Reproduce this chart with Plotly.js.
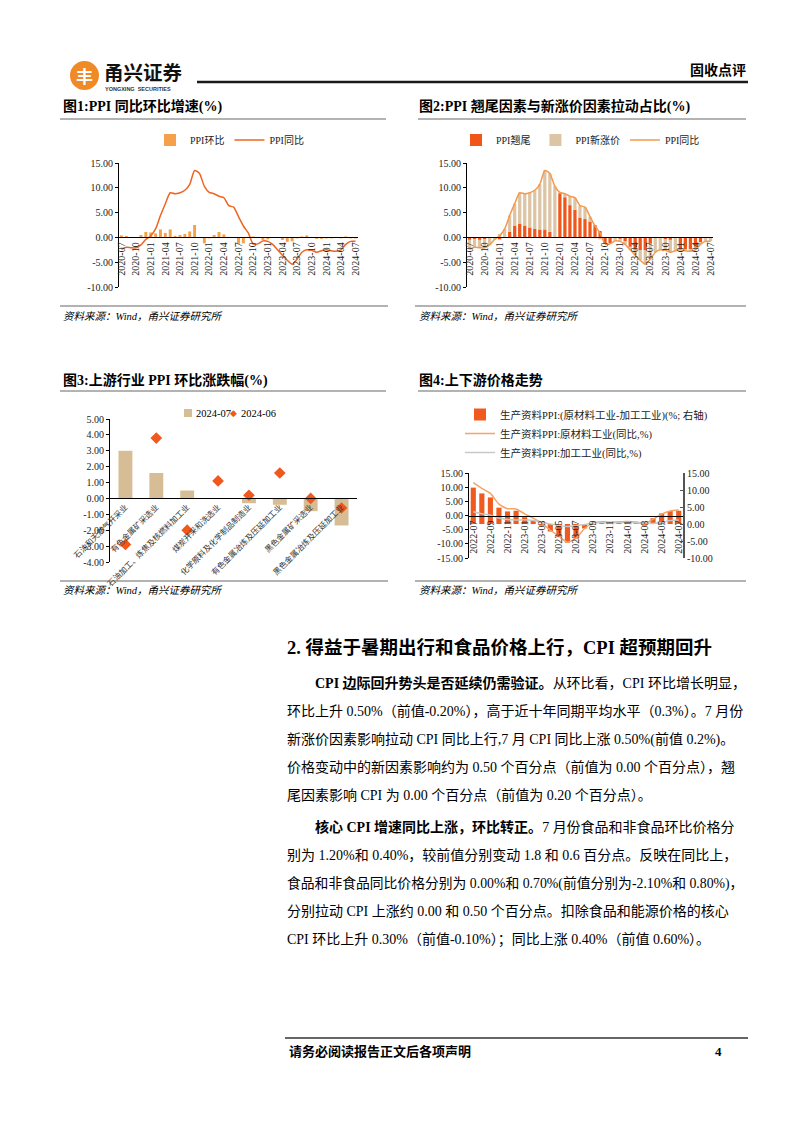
<!DOCTYPE html>
<html><head><meta charset="utf-8">
<script src="https://cdn.plot.ly/plotly-3.0.1.min.js"></script>
<style>html,body{margin:0;padding:0;background:#fff;}#page{width:802px;height:1133px;}</style>
</head><body><div id="page"></div>
<script>
// ---------------- DATA ----------------
const months1 = ['2020-07','2020-08','2020-09','2020-10','2020-11','2020-12',
 '2021-01','2021-02','2021-03','2021-04','2021-05','2021-06','2021-07','2021-08','2021-09','2021-10','2021-11','2021-12',
 '2022-01','2022-02','2022-03','2022-04','2022-05','2022-06','2022-07','2022-08','2022-09','2022-10','2022-11','2022-12',
 '2023-01','2023-02','2023-03','2023-04','2023-05','2023-06','2023-07','2023-08','2023-09','2023-10','2023-11','2023-12',
 '2024-01','2024-02','2024-03','2024-04','2024-05','2024-06','2024-07'];
const ticks1 = ['2020-07','2020-10','2021-01','2021-04','2021-07','2021-10','2022-01','2022-04','2022-07','2022-10',
 '2023-01','2023-04','2023-07','2023-10','2024-01','2024-04','2024-07'];
// Fig 1
const ppiYoY = [-2.4,-2.0,-2.1,-2.1,-1.5,-0.4,
 0.3,1.7,4.4,6.8,9.0,8.8,9.0,9.5,10.7,13.5,12.9,10.3,
 9.1,8.8,8.3,8.0,6.4,6.1,4.2,2.3,0.9,-1.3,-1.3,-0.7,
 -0.8,-1.4,-2.5,-3.6,-4.6,-5.4,-4.4,-3.0,-2.5,-2.6,-3.0,-2.7,
 -2.5,-2.7,-2.8,-2.5,-1.4,-0.8,-0.8];
const ppiMoM = [0.4,0.3,0.1,0.0,0.5,1.1,
 1.0,0.8,1.6,0.9,1.6,0.3,0.5,0.7,1.2,2.5,0.0,-1.2,
 -0.2,0.5,1.1,0.6,0.1,0.0,-1.3,-1.2,0.1,0.2,0.1,-0.5,
 -0.4,0.0,0.0,-0.5,-0.9,-0.8,-0.2,0.2,0.4,0.0,-0.3,-0.3,
 -0.2,-0.2,-0.1,-0.2,0.2,-0.2,-0.2];
// Fig 2
const ppiCarry = [-0.5,-0.4,-0.5,-0.4,0.0,0.0,
 -0.4,0.1,1.1,2.4,2.8,2.4,2.0,1.7,1.6,1.6,1.1,0.0,
 8.9,8.1,6.5,5.6,4.0,3.7,3.2,2.5,1.3,-1.2,-1.2,0.0,
 -0.3,-0.8,-1.9,-2.5,-2.6,-2.6,-1.3,-0.1,-0.2,-0.4,-0.5,0.0,
 -2.4,-2.4,-2.4,-1.9,-1.0,-0.2,0.0];
const ppiNew = [-1.9,-1.6,-1.6,-1.7,-1.5,-0.4,
 0.7,1.6,3.3,4.4,6.2,6.4,7.0,7.8,9.1,11.9,11.8,10.3,
 0.2,0.7,1.8,2.4,2.4,2.4,1.0,-0.2,-0.4,-0.1,-0.1,-0.7,
 -0.5,-0.6,-0.6,-1.1,-2.0,-2.8,-3.1,-2.9,-2.3,-2.2,-2.5,-2.7,
 -0.1,-0.3,-0.4,-0.6,-0.4,-0.6,-0.8];
// Fig 3
const industries = ['石油和天然气开采业','有色金属矿采选业','石油加工、炼焦及核燃料加工业','煤炭开采和洗选业',
 '化学原料及化学制品制造业','有色金属冶炼及压延加工业','黑色金属矿采选业','黑色金属冶炼及压延加工业'];
const mom202407 = [3.0,1.6,0.5,0.0,-0.3,-0.4,-0.8,-1.7];
const mom202406 = [-2.9,3.8,-2.0,1.1,0.2,1.6,0.0,-0.6];
const legend3Names = ['2024-07','2024-06'];
// Fig 4
const months4 = ['2022-07','2022-08','2022-09','2022-10','2022-11','2022-12',
 '2023-01','2023-02','2023-03','2023-04','2023-05','2023-06','2023-07','2023-08','2023-09','2023-10','2023-11','2023-12',
 '2024-01','2024-02','2024-03','2024-04','2024-05','2024-06','2024-07'];
const ticks4 = ['2022-07','2022-09','2022-11','2023-01','2023-03','2023-05','2023-07','2023-09','2023-11','2024-01','2024-03','2024-05','2024-07'];
const spreadRawProc = [10.7,9.0,7.8,4.8,3.7,3.9,2.0,0.9,-0.5,-2.2,-3.8,-5.5,-4.3,-1.3,-0.2,0.3,0.2,0.3,0.5,0.2,-0.5,1.7,3.1,3.8,3.9];
const rawYoY = [11.6,9.6,7.8,4.0,2.4,2.3,0.6,-0.9,-2.7,-5.2,-7.3,-9.4,-8.0,-4.6,-2.6,-2.2,-2.4,-2.2,-2.1,-2.3,-2.9,-1.3,0.5,1.6,1.9];
const procYoY = [1.3,0.6,0.1,-0.9,-1.4,-1.6,-1.5,-1.8,-2.3,-3.0,-3.5,-3.9,-3.6,-3.2,-2.6,-2.5,-2.6,-2.5,-2.5,-2.4,-2.6,-2.8,-2.5,-1.8,-1.6];
// tick labels
const yVals1 = [-10,-5,0,5,10,15], yText1 = ['-10.00','-5.00','0.00','5.00','10.00','15.00'];
const yVals3 = [-4,-3,-2,-1,0,1,2,3,4,5], yText3 = ['-4.00','-3.00','-2.00','-1.00','0.00','1.00','2.00','3.00','4.00','5.00'];
const yVals4L = [-15,-10,-5,0,5,10,15], yText4L = ['-15.00','-10.00','-5.00','0.00','5.00','10.00','15.00'];
const yVals4R = [-10,-5,0,5,10,15], yText4R = ['-10.00','-5.00','0.00','5.00','10.00','15.00'];

// ---------------- LAYOUT HELPERS ----------------
const W = 802, H = 1133;
const fx = x => x / W, fy = y => 1 - y / H;
const SERIF = "'Liberation Serif','Times New Roman','Noto Sans CJK SC',serif";
const CJK = "'Noto Sans CJK SC','Liberation Serif',sans-serif";
const tickFont = {family: SERIF, size: 10, color: '#222'};
const C = {mom: '#F5A04A', yoy: '#F0641E', carry: '#F0561A', newp: '#DCC4A4', yoy2: '#F39A4E',
  tan: '#D6BD95', dia: '#F0581E', spread: '#F05A1E', raw: '#F4A468', proc: '#C8C8C8'};

function yAx(top, bot, range, vals, text, anchor, extra) {
  return Object.assign({domain: [fy(bot), fy(top)], anchor: anchor, range: range, tickmode: 'array',
    tickvals: vals, ticktext: text, showline: true, linecolor: '#000', linewidth: 1, ticks: 'outside',
    ticklen: 3, tickcolor: '#000', showgrid: false, zeroline: false, tickfont: tickFont, automargin: false, fixedrange: true}, extra || {});
}
function xAx(left, right, zeroY, range, ticks, angle, extra) {
  return Object.assign({domain: [fx(left), fx(right)], anchor: 'free', position: fy(zeroY), type: 'category',
    range: range, tickmode: 'array', tickvals: ticks, ticktext: ticks, tickangle: angle, showline: true,
    linecolor: '#000', linewidth: 1, ticks: '', showgrid: false, zeroline: false, tickfont: tickFont,
    automargin: false, fixedrange: true}, extra || {});
}
function txt(x, y, text, size, extra) {
  return Object.assign({xref: 'paper', yref: 'paper', x: fx(x), y: fy(y), text: text, showarrow: false,
    xanchor: 'left', yanchor: 'middle', font: {family: SERIF, size: size, color: '#000'}}, extra || {});
}
function hline(x0, x1, y, color, width) {
  return {type: 'line', xref: 'paper', yref: 'paper', x0: fx(x0), x1: fx(x1), y0: fy(y), y1: fy(y), line: {color: color, width: width}};
}
function legendAt(x, y, orient, yanchor, size) {
  return {orientation: orient, x: fx(x), y: fy(y), xanchor: 'left', yanchor: yanchor, bgcolor: 'rgba(0,0,0,0)',
    font: {family: SERIF, size: size || 10, color: '#222'}, traceorder: 'normal', itemwidth: 30, tracegroupgap: 0};
}

// ---------------- TRACES ----------------
const traces = [
  {type: 'bar', name: 'PPI环比', x: months1, y: ppiMoM, xaxis: 'x', yaxis: 'y', width: 0.6,
   marker: {color: C.mom}, legend: 'legend'},
  {type: 'scatter', mode: 'lines', name: 'PPI同比', x: months1, y: ppiYoY, xaxis: 'x', yaxis: 'y',
   line: {color: C.yoy, width: 1.5, shape: 'spline', smoothing: 0.6}, legend: 'legend'},

  {type: 'bar', name: 'PPI翘尾', x: months1, y: ppiCarry, xaxis: 'x2', yaxis: 'y2', width: 0.65,
   marker: {color: C.carry}, legend: 'legend2'},
  {type: 'bar', name: 'PPI新涨价', x: months1, y: ppiNew, xaxis: 'x2', yaxis: 'y2', width: 0.65,
   marker: {color: C.newp}, legend: 'legend2'},
  {type: 'scatter', mode: 'lines', name: 'PPI同比', x: months1, y: ppiYoY, xaxis: 'x2', yaxis: 'y2',
   line: {color: C.yoy2, width: 1.5, shape: 'spline', smoothing: 0.6}, legend: 'legend2'},

  {type: 'bar', name: legend3Names[0], x: industries, y: mom202407, xaxis: 'x3', yaxis: 'y3', width: 0.45,
   marker: {color: C.tan}, showlegend: false},
  {type: 'scatter', mode: 'markers', name: legend3Names[1], x: industries, y: mom202406, xaxis: 'x3', yaxis: 'y3',
   marker: {symbol: 'diamond', size: 9, color: C.dia}, showlegend: false},

  {type: 'bar', name: '生产资料PPI:(原材料工业-加工工业)(%; 右轴)', x: months4, y: spreadRawProc, xaxis: 'x4', yaxis: 'y4',
   width: 0.6, marker: {color: C.spread}, legend: 'legend4'},
  {type: 'scatter', mode: 'lines', name: '生产资料PPI:原材料工业(同比,%)', x: months4, y: rawYoY, xaxis: 'x4', yaxis: 'y5',
   line: {color: C.raw, width: 1.5, shape: 'spline', smoothing: 0.6}, legend: 'legend4'},
  {type: 'scatter', mode: 'lines', name: '生产资料PPI:加工工业(同比,%)', x: months4, y: procYoY, xaxis: 'x4', yaxis: 'y5',
   line: {color: C.proc, width: 1.5, shape: 'spline', smoothing: 0.6}, legend: 'legend4'}
];

// ---------------- SHAPES & TEXT ----------------
const shapes = [
  hline(197, 748, 82, '#1a1a1a', 2.5),
  {type: 'circle', xref: 'paper', yref: 'paper', x0: fx(70), x1: fx(99), y0: fy(90), y1: fy(61), fillcolor: '#F08A26', line: {width: 0}},
  hline(60, 386, 119, '#666', 1), hline(418, 746, 119, '#666', 1),
  hline(60, 388, 306, '#666', 1), hline(415, 746, 306, '#666', 1),
  hline(60, 386, 391, '#666', 1), hline(418, 746, 391, '#666', 1),
  hline(60, 388, 581, '#666', 1), hline(415, 746, 581, '#666', 1),
  hline(285, 748, 1038, '#333', 1.5),
  // chart 3 legend swatch
  {type: 'rect', xref: 'paper', yref: 'paper', x0: fx(184), x1: fx(192), y0: fy(417), y1: fy(409), fillcolor: C.tan, line: {width: 0}}
];
const B = s => '<b>' + s + '</b>';
const SRC = '<i>资料来源：Wind，甬兴证券研究所</i>';
const annotations = [
  txt(84.5, 76, B('丰'), 17, {xanchor: 'center', font: {family: CJK, size: 17, color: '#fff'}}),
  txt(102, 71, B('甬兴证券'), 19.5, {font: {family: CJK, size: 19.5, color: '#111'}}),
  txt(103, 89, B('YONGXING  SECURITIES'), 5.5, {font: {family: 'Liberation Sans, Arial, sans-serif', size: 5.5, color: '#333'}}),
  txt(748, 70, B('固收点评'), 14, {xanchor: 'right'}),

  txt(61, 107, B('图1:PPI 同比环比增速(%)'), 14),
  txt(417, 107, B('图2:PPI 翘尾因素与新涨价因素拉动占比(%)'), 14),
  txt(61, 380, B('图3:上游行业 PPI 环比涨跌幅(%)'), 14),
  txt(417, 380, B('图4:上下游价格走势'), 14),

  txt(61, 316, SRC, 10.5), txt(417, 316, SRC, 10.5), txt(61, 590, SRC, 10.5), txt(417, 590, SRC, 10.5),

  // chart 3 legend text
  txt(194, 413, legend3Names[0], 10.5),
  txt(234, 413, '◆', 9, {xanchor: 'center', font: {family: 'DejaVu Sans', size: 9, color: C.dia}}),
  txt(239, 413, legend3Names[1], 10.5),

  txt(285, 647, B('2. 得益于暑期出行和食品价格上行，CPI 超预期回升'), 18.5),
  txt(313, 683, B('CPI 边际回升势头是否延续仍需验证。') + '从环比看，CPI 环比增长明显，', 14),
  txt(285, 711, '环比上升 0.50%（前值-0.20%），高于近十年同期平均水平（0.3%）。7 月份', 14),
  txt(285, 739, '新涨价因素影响拉动 CPI 同比上行,7 月 CPI 同比上涨 0.50%(前值 0.2%)。', 14),
  txt(285, 767, '价格变动中的新因素影响约为 0.50 个百分点（前值为 0.00 个百分点），翘', 14),
  txt(285, 795, '尾因素影响 CPI 为 0.00 个百分点（前值为 0.20 个百分点）。', 14),
  txt(313, 827, B('核心 CPI 增速同比上涨，环比转正。') + '7 月份食品和非食品环比价格分', 14),
  txt(285, 855, '别为 1.20%和 0.40%，较前值分别变动 1.8 和 0.6 百分点。反映在同比上，', 14),
  txt(285, 883, '食品和非食品同比价格分别为 0.00%和 0.70%(前值分别为-2.10%和 0.80%)，', 13.8),
  txt(285, 911, '分别拉动 CPI 上涨约 0.00 和 0.50 个百分点。扣除食品和能源价格的核心', 14),
  txt(285, 939, 'CPI 环比上升 0.30%（前值-0.10%）；同比上涨 0.40%（前值 0.60%）。', 14),

  txt(287, 1051, B('请务必阅读报告正文后各项声明'), 13),
  txt(724, 1051, B('4'), 13, {xanchor: 'right'})
];

// ---------------- LAYOUT ----------------
const layout = {
  width: W, height: H, margin: {l: 0, r: 0, t: 0, b: 0}, paper_bgcolor: '#fff', plot_bgcolor: 'rgba(0,0,0,0)',
  barmode: 'relative', showlegend: true, font: {family: SERIF, size: 10, color: '#222'},
  xaxis: xAx(119, 358, 237.3, [-0.5, 48.5], ticks1, -90),
  yaxis: yAx(163, 287, [-10, 15], yVals1, yText1, 'x'),
  xaxis2: xAx(467, 713, 237.3, [-0.5, 48.5], ticks1, -90),
  yaxis2: yAx(163, 287, [-10, 15], yVals1, yText1, 'x2'),
  xaxis3: xAx(110, 357, 498.4, [-0.5, 7.5], industries, -45, {tickfont: {family: CJK, size: 8, color: '#333'}}),
  yaxis3: yAx(419, 562, [-4, 5], yVals3, yText3, 'x3'),
  xaxis4: xAx(469, 683, 515.5, [-0.5, 24.5], ticks4, -90),
  yaxis4: yAx(473, 558, [-10, 15], yVals4R, yText4R, 'x4', {side: 'right', ticks: 'inside', linecolor: '#555', linewidth: 2, tickcolor: '#555'}),
  yaxis5: yAx(473, 558, [-15, 15], yVals4L, yText4L, 'x4', {overlaying: 'y4', side: 'left'}),
  legend: legendAt(150, 140, 'h', 'middle'),
  legend2: legendAt(456, 140, 'h', 'middle'),
  legend4: legendAt(460, 400, 'v', 'top', 10.5),
  shapes: shapes,
  annotations: annotations
};

Plotly.newPlot('page', traces, layout, {displayModeBar: false, staticPlot: true});
</script></body></html>
